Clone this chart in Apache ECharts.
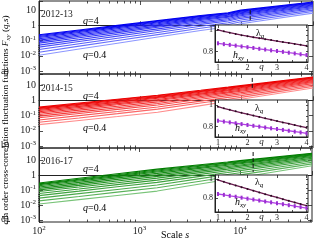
<!DOCTYPE html>
<html><head><meta charset="utf-8">
<script src="https://cdn.jsdelivr.net/npm/echarts@6/dist/echarts.min.js"></script>
<style>html,body{margin:0;padding:0;background:#fff}#c{width:315px;height:240px}</style>
</head><body><div id="c"></div>
<script>
// ---------------- data ----------------
const scales = [100, 250, 600, 1500, 4000, 7500, 10000, 52000];
const qValues = [0.4, 0.7, 1.0, 1.3, 1.6, 1.9, 2.2, 2.5, 2.8, 3.1, 3.4, 3.7, 4.0];
const periods = ['2012-13', '2014-15', '2016-17'];
const panelTags = ['a)', 'b)', 'c)'];
// log10 of F_xy(q,s), one row per q (0.4 ... 4.0), one column per scale
const log10F_2012_13 = [
  [-1.97, -1.56, -1.18, -0.77, -0.34, -0.09, 0.10, 0.80],
  [-1.77, -1.37, -1.00, -0.61, -0.19, 0.05, 0.23, 0.91],
  [-1.59, -1.21, -0.85, -0.47, -0.06, 0.17, 0.35, 1.00],
  [-1.43, -1.06, -0.71, -0.34, 0.06, 0.28, 0.46, 1.09],
  [-1.30, -0.94, -0.59, -0.23, 0.15, 0.37, 0.55, 1.16],
  [-1.17, -0.82, -0.48, -0.13, 0.24, 0.45, 0.63, 1.23],
  [-1.07, -0.72, -0.39, -0.05, 0.32, 0.53, 0.70, 1.29],
  [-0.97, -0.64, -0.31, 0.03, 0.39, 0.59, 0.77, 1.34],
  [-0.88, -0.55, -0.22, 0.10, 0.46, 0.66, 0.83, 1.39],
  [-0.80, -0.47, -0.15, 0.17, 0.52, 0.71, 0.88, 1.44],
  [-0.73, -0.41, -0.09, 0.22, 0.57, 0.76, 0.93, 1.47],
  [-0.67, -0.36, -0.05, 0.27, 0.61, 0.79, 0.96, 1.50],
  [-0.62, -0.31, 0.00, 0.31, 0.65, 0.83, 1.00, 1.53]
];
const log10F_2014_15 = [
  [-1.60, -1.33, -1.07, -0.79, -0.35, -0.07, 0.06, 0.80],
  [-1.44, -1.16, -0.88, -0.58, -0.18, 0.07, 0.19, 0.91],
  [-1.29, -1.01, -0.74, -0.44, -0.06, 0.19, 0.30, 1.00],
  [-1.15, -0.87, -0.60, -0.31, 0.06, 0.30, 0.41, 1.09],
  [-1.04, -0.76, -0.49, -0.21, 0.16, 0.39, 0.50, 1.16],
  [-0.93, -0.65, -0.39, -0.11, 0.25, 0.48, 0.59, 1.22],
  [-0.84, -0.56, -0.30, -0.02, 0.33, 0.55, 0.66, 1.28],
  [-0.75, -0.48, -0.22, 0.05, 0.40, 0.62, 0.72, 1.33],
  [-0.67, -0.40, -0.14, 0.13, 0.46, 0.68, 0.79, 1.38],
  [-0.60, -0.33, -0.08, 0.19, 0.52, 0.74, 0.84, 1.43],
  [-0.54, -0.27, -0.02, 0.24, 0.57, 0.79, 0.89, 1.46],
  [-0.50, -0.23, 0.03, 0.29, 0.61, 0.82, 0.92, 1.49],
  [-0.45, -0.18, 0.07, 0.33, 0.65, 0.86, 0.96, 1.52]
];
const log10F_2016_17 = [
  [-1.93, -1.64, -1.36, -1.07, -0.60, -0.30, -0.16, 0.62],
  [-1.72, -1.43, -1.14, -0.85, -0.41, -0.12, 0.01, 0.74],
  [-1.54, -1.24, -0.96, -0.66, -0.24, 0.03, 0.15, 0.85],
  [-1.37, -1.07, -0.78, -0.49, -0.09, 0.17, 0.29, 0.95],
  [-1.23, -0.93, -0.64, -0.34, 0.04, 0.28, 0.40, 1.03],
  [-1.10, -0.80, -0.51, -0.21, 0.16, 0.39, 0.50, 1.11],
  [-0.99, -0.69, -0.40, -0.09, 0.26, 0.48, 0.59, 1.18],
  [-0.89, -0.59, -0.29, 0.01, 0.35, 0.57, 0.67, 1.23],
  [-0.80, -0.49, -0.19, 0.11, 0.44, 0.65, 0.75, 1.29],
  [-0.71, -0.40, -0.11, 0.20, 0.51, 0.72, 0.81, 1.34],
  [-0.64, -0.33, -0.04, 0.27, 0.58, 0.78, 0.87, 1.38],
  [-0.59, -0.28, 0.02, 0.33, 0.63, 0.82, 0.92, 1.42],
  [-0.53, -0.22, 0.08, 0.39, 0.68, 0.87, 0.96, 1.45]
];
// fitting-range markers: scale positions and F range of each marker
const markerS_2012_13 = [100, 12400];
const markerF_2012_13 = [[0.05, 0.008], [10, 1.6]];
const markerS_2014_15 = [100, 13000];
const markerF_2014_15 = [[0.31, 0.015], [29, 4.7]];
const markerS_2016_17 = [100, 13500];
const markerF_2016_17 = [[0.054, 0.0063], [34, 1.6]];
// insets
const qInset = [1.0, 1.2, 1.4, 1.6, 1.8, 2.0, 2.2, 2.4, 2.6, 2.8, 3.0, 3.2, 3.4, 3.6, 3.8, 4.0];
const lambdaQ_2012_13 = [1.005, 0.990, 0.977, 0.965, 0.954, 0.944, 0.934, 0.925, 0.916, 0.907, 0.898, 0.889, 0.880, 0.871, 0.862, 0.853];
const hxy_2012_13 = [0.877, 0.869, 0.862, 0.855, 0.847, 0.840, 0.833, 0.825, 0.818, 0.810, 0.803, 0.796, 0.788, 0.781, 0.773, 0.766];
const lambdaQ_2014_15 = [0.987, 0.971, 0.957, 0.943, 0.929, 0.916, 0.903, 0.890, 0.877, 0.864, 0.851, 0.838, 0.826, 0.813, 0.800, 0.788];
const hxy_2014_15 = [0.854, 0.846, 0.838, 0.830, 0.822, 0.814, 0.806, 0.798, 0.790, 0.782, 0.775, 0.767, 0.759, 0.751, 0.743, 0.735];
const lambdaQ_2016_17 = [0.990, 0.970, 0.951, 0.933, 0.915, 0.897, 0.879, 0.861, 0.843, 0.826, 0.809, 0.792, 0.775, 0.758, 0.741, 0.725];
const hxy_2016_17 = [0.845, 0.836, 0.826, 0.817, 0.807, 0.797, 0.788, 0.778, 0.768, 0.759, 0.749, 0.740, 0.730, 0.720, 0.710, 0.700];
// ticks
const xMajorTicks = [100, 1000, 10000];
const xMinorTicks = [200, 300, 400, 500, 600, 700, 800, 900, 2000, 3000, 4000, 5000, 6000, 7000, 8000, 9000, 20000, 30000, 40000, 50000];
const yMajorTicks = [0.001, 0.01, 0.1, 1, 10];
const insetQTicks = [1, 2, 3, 4];
const insetQMinorTicks = [1.5, 2.5, 3.5];
const insetYTicks = [0.8, 1];
const insetYMinorTicks = [0.7, 0.75, 0.85, 0.9, 0.95, 1.05];

// ---------------- layout / style ----------------
const FONT = 'Liberation Serif';
const INK = '#222';
const allLog = [log10F_2012_13, log10F_2014_15, log10F_2016_17];
const allMarkS = [markerS_2012_13, markerS_2014_15, markerS_2016_17];
const allMarkF = [markerF_2012_13, markerF_2014_15, markerF_2016_17];
const allLam = [lambdaQ_2012_13, lambdaQ_2014_15, lambdaQ_2016_17];
const allH = [hxy_2012_13, hxy_2014_15, hxy_2016_17];
const X_MIN = 100, X_MAX = 52000;
const yMin = [Math.pow(10, -3.2), Math.pow(10, -3.13), Math.pow(10, -3.13)];
const yMax = [Math.pow(10, 1.6), Math.pow(10, 1.72), Math.pow(10, 1.8)];
const gridTop = [1, 74, 148];
const gridH = [73, 74, 74];
const insetTop = [25, 100, 175];
const insetRange = [[0.70, 1.05], [0.70, 1.05], [0.66, 1.04]];
const lightCol = [[140, 150, 255], [255, 140, 140], [120, 195, 120]];
const darkCol = [[0, 0, 240], [235, 0, 0], [0, 125, 0]];
function mix(a, b, t) {
  return 'rgb(' + a.map((v, i) => Math.round(v + (b[i] - v) * t)).join(',') + ')';
}
const powRich = {
  b: { fontFamily: FONT, fontSize: 10, color: INK, lineHeight: 12 },
  s: { fontFamily: FONT, fontSize: 7, color: INK, verticalAlign: 'top', lineHeight: 12 }
};
function powLabel(v) {
  const e = Math.round(Math.log10(v));
  if (Math.abs(Math.log10(v) - e) > 0.01) return '';
  if (e === 1) return '{b|10}';
  if (e === 0) return '{b|1}';
  return '{b|10}{s|' + e + '}';
}
const tickLine = { color: INK, width: 0.8 };

const grid = [], xAxis = [], yAxis = [], series = [], graphic = [];
for (let p = 0; p < 3; p++) {
  grid.push({ left: 39, width: 274, top: gridTop[p], height: gridH[p], show: true, borderColor: INK, borderWidth: 1, backgroundColor: 'transparent' });
}
for (let p = 0; p < 3; p++) {
  grid.push({ left: 215, width: 93, top: insetTop[p], height: 37, show: true, borderColor: INK, borderWidth: 1, backgroundColor: '#fff', z: 10 });
}
// main x axes 0..2
for (let p = 0; p < 3; p++) {
  xAxis.push({
    type: 'log', logBase: 10, gridIndex: p, min: X_MIN, max: X_MAX,
    axisLine: { lineStyle: { color: INK, width: 1 } },
    axisTick: { inside: true, length: 4, lineStyle: tickLine },
    axisLabel: { show: p === 2, formatter: powLabel, rich: powRich, margin: 3 },
    splitLine: { show: false }, minorTick: { show: false }
  });
}
// inset x axes 3..5
for (let p = 0; p < 3; p++) {
  xAxis.push({
    type: 'value', gridIndex: 3 + p, min: 0.9, max: 4.05, z: 12,
    name: 'q', nameLocation: 'middle', nameGap: 5, nameMoveOverlap: false,
    nameTextStyle: { fontFamily: FONT, fontSize: 9, fontStyle: 'italic', color: INK, verticalAlign: 'middle' },
    axisLine: { lineStyle: { color: INK, width: 1 } },
    axisTick: { inside: true, length: 3, customValues: insetQTicks, lineStyle: tickLine },
    axisLabel: { customValues: insetQTicks, fontFamily: FONT, fontSize: 8, color: INK, margin: 2 },
    splitLine: { show: false }
  });
}
// helper tick axes (log10 space) 6..
const lx0 = Math.log10(X_MIN), lx1 = Math.log10(X_MAX);
for (let p = 0; p < 3; p++) {
  const base = { type: 'value', gridIndex: p, min: lx0, max: lx1, axisLine: { show: false }, axisLabel: { show: false }, splitLine: { show: false } };
  xAxis.push(Object.assign({}, base, { position: 'bottom', axisTick: { inside: true, length: 2.5, customValues: xMinorTicks.map(Math.log10), lineStyle: tickLine } }));
  xAxis.push(Object.assign({}, base, { position: 'top', axisTick: { inside: true, length: 4, customValues: xMajorTicks.map(Math.log10), lineStyle: tickLine } }));
  xAxis.push(Object.assign({}, base, { position: 'top', axisTick: { inside: true, length: 2.5, customValues: xMinorTicks.map(Math.log10), lineStyle: tickLine } }));
}
// inset minor/mirror tick helpers
for (let p = 0; p < 3; p++) {
  const base = { type: 'value', gridIndex: 3 + p, min: 0.9, max: 4.05, z: 12, axisLine: { show: false }, axisLabel: { show: false }, splitLine: { show: false } };
  xAxis.push(Object.assign({}, base, { position: 'bottom', axisTick: { inside: true, length: 2, customValues: insetQMinorTicks, lineStyle: tickLine } }));
  xAxis.push(Object.assign({}, base, { position: 'top', axisTick: { inside: true, length: 3, customValues: insetQTicks, lineStyle: tickLine } }));
}
// main y axes 0..2
for (let p = 0; p < 3; p++) {
  yAxis.push({
    type: 'log', logBase: 10, gridIndex: p, min: yMin[p], max: yMax[p],
    axisLine: { lineStyle: { color: INK, width: 1 } },
    axisTick: { inside: true, length: 4, lineStyle: tickLine },
    axisLabel: { formatter: powLabel, rich: powRich, margin: 3 },
    splitLine: { show: false }, minorTick: { show: false }
  });
}
// inset y axes 3..5
for (let p = 0; p < 3; p++) {
  yAxis.push({
    type: 'value', gridIndex: 3 + p, min: insetRange[p][0], max: insetRange[p][1], z: 12,
    axisLine: { lineStyle: { color: INK, width: 1 } },
    axisTick: { inside: true, length: 3, customValues: insetYTicks, lineStyle: tickLine },
    axisLabel: { customValues: insetYTicks, fontFamily: FONT, fontSize: 8, color: INK, margin: 2 },
    splitLine: { show: false }
  });
}
// right mirror y helpers 6..8
for (let p = 0; p < 3; p++) {
  yAxis.push({
    type: 'value', gridIndex: p, position: 'right', min: Math.log10(yMin[p]), max: Math.log10(yMax[p]),
    axisLine: { show: false }, axisLabel: { show: false }, splitLine: { show: false },
    axisTick: { inside: true, length: 4, customValues: yMajorTicks.map(Math.log10), lineStyle: tickLine }
  });
}
// inset right mirror y helpers
for (let p = 0; p < 3; p++) {
  yAxis.push({
    type: 'value', gridIndex: 3 + p, position: 'right', min: insetRange[p][0], max: insetRange[p][1], z: 12,
    axisLine: { show: false }, axisLabel: { show: false }, splitLine: { show: false },
    axisTick: { inside: true, length: 2, customValues: insetYMinorTicks.concat(insetYTicks).filter(v => v > insetRange[p][0] && v < insetRange[p][1]), lineStyle: tickLine }
  });
}

// series
for (let p = 0; p < 3; p++) {
  const rows = allLog[p];
  rows.forEach((row, i) => {
    const t = Math.pow(i / (rows.length - 1), 0.55);
    series.push({
      type: 'line', xAxisIndex: p, yAxisIndex: p, name: periods[p] + ' q=' + qValues[i],
      data: scales.map((s, j) => [s, Math.pow(10, row[j])]),
      showSymbol: false, symbol: 'none', silent: true, animation: false,
      lineStyle: { width: 1.1, color: mix(lightCol[p], darkCol[p], t) }, z: 2
    });
  });
  allMarkS[p].forEach((s, k) => {
    series.push({
      type: 'line', xAxisIndex: p, yAxisIndex: p, silent: true, animation: false, symbol: 'none',
      data: [[s, allMarkF[p][k][0]], [s, allMarkF[p][k][1]]],
      lineStyle: { width: 1, color: '#111', type: k === 0 ? 'dotted' : 'dashed' }, z: 4
    });
  });
  series.push({
    type: 'line', xAxisIndex: 3 + p, yAxisIndex: 3 + p, silent: true, animation: false,
    data: qInset.map((q, j) => [q, allLam[p][j]]),
    symbol: 'circle', symbolSize: 2, showSymbol: true,
    lineStyle: { width: 1.3, color: '#6a1c50' }, itemStyle: { color: '#2a0a20' }, z: 13
  });
  series.push({
    type: 'line', xAxisIndex: 3 + p, yAxisIndex: 3 + p, silent: true, animation: false,
    data: qInset.map((q, j) => [q, allH[p][j]]),
    symbol: 'rect', symbolSize: [2, 4], showSymbol: true,
    lineStyle: { width: 1.3, color: '#b23fe6' }, itemStyle: { color: '#9a2fd0' }, z: 13
  });
}

// text annotations
const tRich = {
  n: { fontFamily: FONT, fontSize: 10, color: INK },
  i: { fontFamily: FONT, fontSize: 10, color: INK, fontStyle: 'italic' }
};
const periodY = [14, 88, 161];
const q4Y = [21, 96, 169];
const q04Y = [55, 128, 208];
const tagY = [71, 145, 219];
const lamXY = [[256, 33], [255, 108], [255, 182]];
const hXY = [[233, 55], [235, 128], [235, 202]];
for (let p = 0; p < 3; p++) {
  graphic.push({ type: 'text', x: 41, y: periodY[p], z: 20, style: { text: periods[p], font: '9.5px "Liberation Serif"', fill: INK, verticalAlign: 'middle' } });
  graphic.push({ type: 'text', x: 83, y: q4Y[p], z: 20, style: { text: '{i|q}{n|=4}', rich: tRich, verticalAlign: 'middle' } });
  graphic.push({ type: 'text', x: 83, y: q04Y[p], z: 20, style: { text: '{i|q}{n|=0.4}', rich: tRich, verticalAlign: 'middle' } });
  graphic.push({ type: 'text', x: 1, y: tagY[p], z: 20, style: { text: panelTags[p], font: '10px "Liberation Serif"', fill: INK, verticalAlign: 'middle' } });
  graphic.push({ type: 'text', x: lamXY[p][0], y: lamXY[p][1], z: 20, style: {
    text: '{a|λ}{b|q}', verticalAlign: 'middle',
    rich: { a: { fontFamily: FONT, fontSize: 10, color: '#7a2a68' }, b: { fontFamily: FONT, fontSize: 7, fontStyle: 'italic', color: '#7a2a68', verticalAlign: 'bottom', padding: [6, 0, 0, 0] } } } });
  graphic.push({ type: 'text', x: hXY[p][0], y: hXY[p][1], z: 20, style: {
    text: '{a|h}{b|xy}', verticalAlign: 'middle',
    rich: { a: { fontFamily: FONT, fontSize: 10, fontStyle: 'italic', color: '#b03ee0' }, b: { fontFamily: FONT, fontSize: 7, fontStyle: 'italic', color: '#b03ee0', verticalAlign: 'bottom', padding: [6, 0, 0, 0] } } } });
}
graphic.push({ type: 'text', x: 6, y: 120, rotation: Math.PI / 2, z: 20, style: {
  text: '{i|q}{n|th order cross-correlation fluctuation functions }{i|F}{s|xy}{n| (}{i|q}{n|,}{i|s}{n|)}',
  align: 'center', verticalAlign: 'middle',
  rich: {
    n: { fontFamily: FONT, fontSize: 9.2, color: INK },
    i: { fontFamily: FONT, fontSize: 9.2, color: INK, fontStyle: 'italic' },
    s: { fontFamily: FONT, fontSize: 7, color: INK, fontStyle: 'italic', verticalAlign: 'bottom', padding: [5, 0, 0, 0] }
  } } });
graphic.push({ type: 'text', x: 175, y: 235, z: 20, style: { text: '{n|Scale }{i|s}', rich: tRich, align: 'center', verticalAlign: 'middle' } });

const chart = echarts.init(document.getElementById('c'), null, { renderer: 'canvas' });
chart.setOption({ animation: false, backgroundColor: '#fff', grid, xAxis, yAxis, series, graphic });
</script></body></html>
